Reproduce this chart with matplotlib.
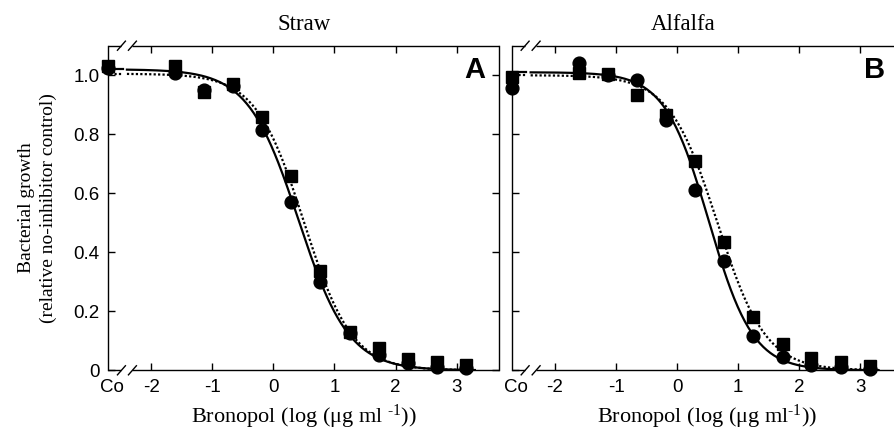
import numpy as np
import matplotlib
matplotlib.use("Agg")
import matplotlib.pyplot as plt

# ---------------- data ----------------
log_dose = [-1.61, -1.14, -0.66, -0.18, 0.29, 0.77, 1.25, 1.73, 2.20, 2.68, 3.16]
panels = ["Straw", "Alfalfa"]
panel_letters = ["A", "B"]

straw_circle_co = 1.025
straw_circle = [1.009, 0.95, 0.965, 0.815, 0.572, 0.30, 0.125, 0.052, 0.025, 0.012, 0.008]
straw_square_co = 1.03
straw_square = [1.03, 0.942, 0.97, 0.858, 0.66, 0.338, 0.131, 0.075, 0.037, 0.029, 0.017]

alfalfa_circle_co = 0.956
alfalfa_circle = [1.04, 1.0, 0.984, 0.848, 0.611, 0.37, 0.116, 0.046, 0.018, 0.012, 0.005]
alfalfa_square_co = 0.995
alfalfa_square = [1.006, 1.003, 0.933, 0.865, 0.71, 0.436, 0.18, 0.088, 0.043, 0.029, 0.015]

# fitted logistic parameters (top, log EC50, Hill slope)
straw_fit_solid = (1.02, 0.41, 1.05)
straw_fit_dotted = (1.005, 0.50, 1.10)
alfalfa_fit_solid = (1.01, 0.52, 1.20)
alfalfa_fit_dotted = (1.0, 0.66, 1.10)

xticks = [-2, -1, 0, 1, 2, 3]
xtick_labels = ["-2", "-1", "0", "1", "2", "3"]
yticks = [0, 0.2, 0.4, 0.6, 0.8, 1.0]
ytick_labels = ["0", "0.2", "0.4", "0.6", "0.8", "1.0"]

CO_X = -2.71
XMAX = 3.70
YMAX = 1.10


def logistic(x, p):
    top, x50, h = p
    return top / (1.0 + 10 ** ((x - x50) * h))


W, H = 894, 434
plt.rcParams["axes.unicode_minus"] = False
fig = plt.figure(figsize=(W / 100, H / 100), dpi=100)

SANS = "Liberation Sans"
SERIF = "Liberation Serif"
plt.rcParams["mathtext.fontset"] = "custom"
plt.rcParams["mathtext.rm"] = SERIF
plt.rcParams["mathtext.it"] = SERIF + ":italic"

axA = fig.add_axes([108 / W, (H - 370.3) / H, 391.3 / W, 324.6 / H])
axB = fig.add_axes([511.7 / W, (H - 370.3) / H, 391.3 / W, 324.6 / H])

datasets = [
    (axA, straw_circle_co, straw_circle, straw_square_co, straw_square,
     straw_fit_solid, straw_fit_dotted),
    (axB, alfalfa_circle_co, alfalfa_circle, alfalfa_square_co, alfalfa_square,
     alfalfa_fit_solid, alfalfa_fit_dotted),
]

xlabels = [r"Bronopol (log (μg ml $^{\text{-1}}$))", r"Bronopol (log (μg ml$^{\text{-1}}$))"]
title_x = [0.5, 0.438]

for i, (ax, cco, cvals, sco, svals, fs, fd) in enumerate(datasets):
    ax.set_xlim(CO_X, XMAX)
    ax.set_ylim(0, YMAX)

    # curves
    xc = np.linspace(-2.40, 3.30, 300)
    xs = np.linspace(CO_X + 0.03, -2.47, 10)
    for p, ls in [(fs, "-"), (fd, (0, (1.0, 1.0)))]:
        ax.plot(xc, logistic(xc, p), color="black", lw=1.6, ls=ls, zorder=2)
        ax.plot(xs, np.full_like(xs, p[0]), color="black", lw=1.6, ls=ls, zorder=2)

    # points
    ax.plot([CO_X] + log_dose, [cco] + cvals, "o", color="black", ms=9.2,
            clip_on=False, zorder=3)
    ax.plot([CO_X] + log_dose, [sco] + svals, "s", color="black", ms=9.2,
            clip_on=False, zorder=4)

    # spines with break
    ax.spines["top"].set_visible(False)
    ax.spines["bottom"].set_visible(False)
    tr = ax.get_xaxis_transform()
    b1, b2 = -2.49, -2.31
    for yy in (0, 1):
        ax.plot([CO_X, b1], [yy, yy], color="black", lw=1.0, transform=tr,
                clip_on=False, zorder=5, solid_capstyle="butt")
        ax.plot([b2, XMAX], [yy, yy], color="black", lw=1.0, transform=tr,
                clip_on=False, zorder=5, solid_capstyle="butt")
        for bx in (b1, b2):
            ax.plot([bx - 0.065, bx + 0.065], [yy - 0.014, yy + 0.014],
                    color="black", lw=1.0, transform=tr, clip_on=False, zorder=6)

    for s in ("left", "right"):
        ax.spines[s].set_linewidth(1.0)

    ax.set_xticks(xticks)
    ax.set_xticklabels(xtick_labels)
    ax.set_yticks(yticks)
    ax.tick_params(direction="in", top=True, right=True, length=5, width=1.0,
                   labelsize=13.5, pad=6)
    if i == 0:
        ax.set_yticklabels(ytick_labels)
    else:
        ax.set_yticklabels([])
    for lab in ax.get_xticklabels() + ax.get_yticklabels():
        lab.set_family(SANS)

    ax.text(-2.64, -0.026, "Co", transform=tr, ha="center", va="top",
            fontsize=13.5, family=SANS)

    ax.set_xlabel(xlabels[i], fontsize=16, family=SERIF, labelpad=5)
    ax.set_title(panels[i], fontsize=16.5, family=SERIF, pad=11, x=title_x[i])
    ax.text(0.965 if i == 0 else 0.955, 0.925, panel_letters[i], transform=ax.transAxes,
            ha="right", va="center", fontsize=21, fontweight="bold", family=SANS)

axA.set_ylabel("Bacterial growth\n(relative no-inhibitor control)", fontsize=14,
               family=SERIF, labelpad=12, linespacing=1.3)

fig.savefig("out.png", dpi=100)
